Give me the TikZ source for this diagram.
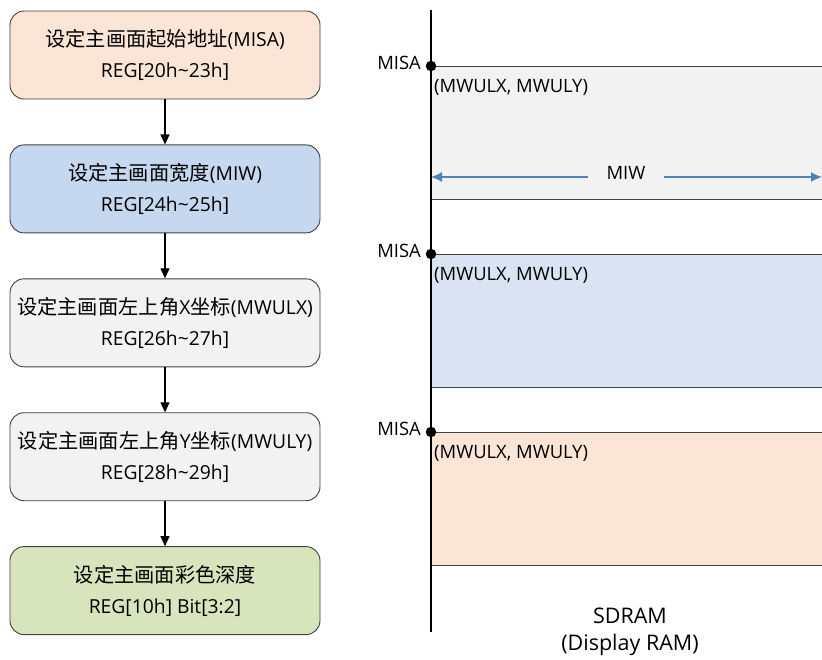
\documentclass[tikz,border=0pt]{standalone}
\usepackage{fontspec}
\setmainfont{Open Sans}
\newfontfamily\cjk[Scale=1.05]{Noto Sans CJK SC}
\usetikzlibrary{positioning, arrows.meta, calc}

\definecolor{orangefill}{HTML}{FBE5D6}
\definecolor{bluefill}{HTML}{C6D8F0}
\definecolor{lightblue}{HTML}{DAE3F3}
\definecolor{grayfill}{HTML}{F2F2F2}
\definecolor{greenfill}{HTML}{D8E4BC}
\definecolor{edgegray}{HTML}{404040}
\definecolor{miwblue}{HTML}{4F81BD}

\begin{document}
\begin{tikzpicture}[
        x=1pt, y=-1pt,
        node distance=45pt,
        every node/.style={inner sep=0pt, text=black},
        regbox/.style={draw=edgegray, line width=0.9pt, rounded corners=14pt,
            minimum width=310pt, minimum height=88pt, align=center,
            font=\fontsize{19.3}{31}\selectfont},
        flow/.style={-{Triangle[length=10pt,width=9pt]}, line width=1.2pt},
        dot/.style={circle, fill=black, minimum size=10.5pt},
        memlbl/.style={font=\fontsize{18.4}{21}\selectfont},
        band/.style={line width=1pt, draw=edgegray}]

        \useasboundingbox (0,0) rectangle (822,659);

        % register settings
        \node[regbox, fill=orangefill] (misa) at (165,55) {{\cjk 设定主画面起始地址}(MISA)\\REG[20h\textasciitilde23h]};
        \node[regbox, fill=bluefill, below=of misa] (miwbox) {{\cjk 设定主画面宽度}(MIW)\\REG[24h\textasciitilde25h]};
        \node[regbox, fill=grayfill, below=of miwbox] (ulx) {{\cjk 设定主画面左上角}X{\cjk 坐标}(MWULX)\\REG[26h\textasciitilde27h]};
        \node[regbox, fill=grayfill, below=of ulx] (uly) {{\cjk 设定主画面左上角}Y{\cjk 坐标}(MWULY)\\REG[28h\textasciitilde29h]};
        \node[regbox, fill=greenfill, below=of uly] (depth) {{\cjk 设定主画面彩色深度}\\REG[10h] Bit[3:2]};

        \draw[flow] (misa) -- (miwbox);
        \draw[flow] (miwbox) -- (ulx);
        \draw[flow] (ulx) -- (uly);
        \draw[flow] (uly) -- (depth);

        % memory bands
        \fill[grayfill] (431,66) rectangle (822,199);
        \fill[lightblue] (431,254) rectangle (822,387);
        \fill[orangefill] (431,432) rectangle (822,565);
        \draw[band] (431,66) -- (822,66) (431,199) -- (822,199);
        \draw[band] (431,254) -- (822,254) (431,387) -- (822,387);
        \draw[band] (431,432) -- (822,432) (431,565) -- (822,565);

        \coordinate (top) at (431,10);
        \coordinate (bot) at (431,632);
        \draw[line width=1.7pt] (top) -- (bot);

        \node[dot] (d1) at (431,66) {};
        \node[dot] (d2) at (431,254) {};
        \node[dot] (d3) at (431,432) {};

        \node[memlbl, anchor=base east] (m1) at (421,69) {MISA};
        \node[memlbl, anchor=base east] (m2) at (421,257) {MISA};
        \node[memlbl, anchor=base east] (m3) at (421,435) {MISA};

        \node[memlbl, anchor=base west] (p1) at (434,92) {(MWULX, MWULY)};
        \node[memlbl, anchor=base west] (p2) at (434,280) {(MWULX, MWULY)};
        \node[memlbl, anchor=base west] (p3) at (434,458) {(MWULX, MWULY)};

        % width arrow
        \coordinate (wl) at (431,177);
        \coordinate (wr) at (822,177);
        \node[memlbl, inner xsep=18pt, anchor=base] (miw) at (626,179) {MIW};
        \draw[-{Latex[length=11pt,width=10pt]}, miwblue, line width=1.3pt] (miw.west |- wl) -- (wl);
        \draw[-{Latex[length=11pt,width=10pt]}, miwblue, line width=1.3pt] (miw.east |- wr) -- (wr);

        \node[align=center, font=\fontsize{21.5}{27}\selectfont] (sdram) at (630,632) {SDRAM\\(Display RAM)};

    \end{tikzpicture}
\end{document}
